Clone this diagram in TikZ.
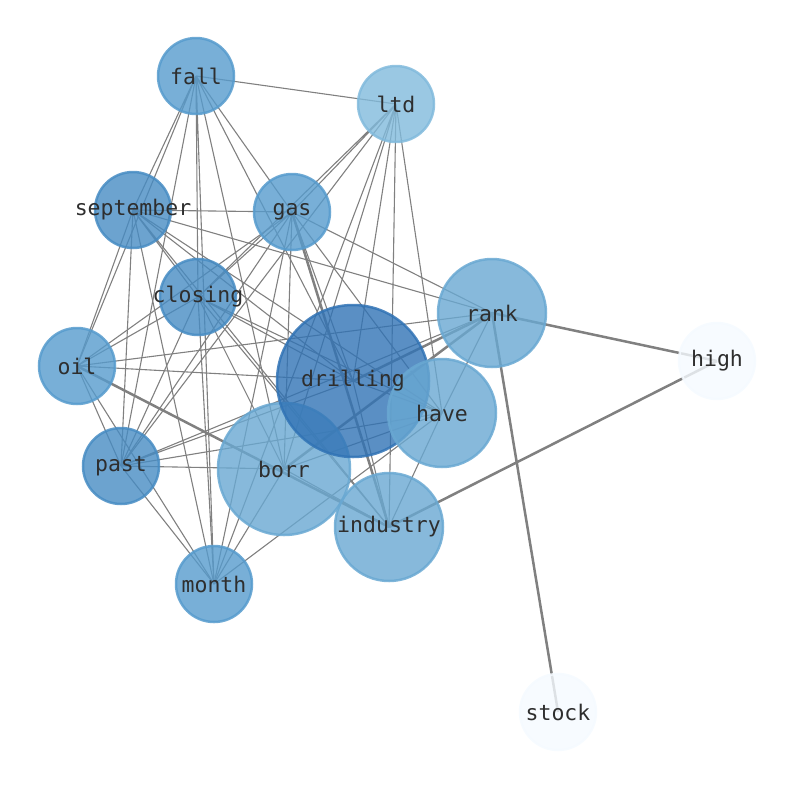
\documentclass[tikz,border=0pt]{standalone}
\usepackage{fontspec}
\setmonofont{DejaVu Sans Mono}
\usepackage{xcolor}
\usepackage{tikz}
\usetikzlibrary{backgrounds}
\definecolor{bluemid}{RGB}{86,155,205}
\definecolor{bluedeep}{RGB}{71,140,195}
\definecolor{bluepale}{RGB}{129,186,220}
\definecolor{bluesoft}{RGB}{105,168,210}
\definecolor{bluedark}{RGB}{49,115,181}
\definecolor{bluewhite}{RGB}{245,250,255}
\tikzstyle{tag} = [inner sep=0pt, text=black!82, font=\ttfamily\fontsize{21.5}{24}\selectfont, execute at begin node={\hbox to 0pt\bgroup\hss}, execute at end node={\hss\egroup}]
\tikzstyle{word} = [tag, circle, minimum size=76pt, line width=2.5pt, fill opacity=0.8, draw opacity=0.85, text opacity=1]
\tikzstyle{mid} = [fill=bluemid, draw=bluemid]
\tikzstyle{deep} = [fill=bluedeep, draw=bluedeep]
\tikzstyle{pale} = [fill=bluepale, draw=bluepale]
\tikzstyle{soft} = [fill=bluesoft, draw=bluesoft]
\tikzstyle{dark} = [fill=bluedark, draw=bluedark]
\tikzstyle{faint} = [fill=bluewhite, draw=bluewhite]
\tikzstyle{link} = [gray, line width=1.1pt]
\tikzstyle{heavy} = [gray, line width=2.5pt]

\begin{document}
\begin{tikzpicture}[x=1pt, y=-1pt]
    \useasboundingbox (0,0) rectangle (794,790);
    \node (fall)      [word, mid]  at (196,76)  {fall};
    \node (ltd)       [word, pale] at (396,104) {ltd};
    \node (september) [word, deep] at (133,210) {september};
    \node (gas)       [word, mid]  at (292,212) {gas};
    \node (closing)   [word, deep] at (198,297) {closing};
    \node (oil)       [word, mid]  at (77,366)  {oil};
    \node (past)      [word, deep] at (121,466) {past};
    \node (borr)      [word, soft, minimum size=132pt] at (284,469) {borr};
    \node (drilling)  [word, dark, minimum size=152pt] at (353,381) {};
    \node (rank)      [word, soft, minimum size=108pt] at (492,313) {rank};
    \node (have)      [word, soft, minimum size=108pt] at (442,413) {have};
    \node (industry)  [word, soft, minimum size=108pt] at (389,527) {industry};
    \node (month)     [word, mid]  at (214,584) {month};
    \node (high)      [word, faint] at (717,361) {high};
    \node (stock)     [word, faint] at (558,712) {stock};
    % label of the big node sits above the node drawn over it
    \node (drillingtag) [tag] at (drilling.center) {drilling};

    \begin{pgfonlayer}{background}
    \draw [link] (fall.center) -- (ltd.center) (fall.center) -- (september.center)
        (fall.center) -- (oil.center) (fall.center) -- (past.center)
        (fall.center) -- (closing.center) (fall.center) -- (month.center)
        (fall.center) -- (borr.center) (fall.center) -- (drilling.center)
        (fall.center) -- (gas.center);
    \draw [link] (ltd.center) -- (gas.center) (ltd.center) -- (closing.center)
        (ltd.center) -- (past.center) (ltd.center) -- (month.center)
        (ltd.center) -- (borr.center) (ltd.center) -- (drilling.center)
        (ltd.center) -- (have.center) (ltd.center) -- (industry.center);
    \draw [link] (september.center) -- (gas.center) (september.center) -- (oil.center)
        (september.center) -- (past.center) (september.center) -- (month.center)
        (september.center) -- (closing.center) (september.center) -- (rank.center)
        (september.center) -- (drilling.center) (september.center) -- (have.center)
        (september.center) -- (industry.center);
    \draw [link] (gas.center) -- (closing.center) (gas.center) -- (oil.center)
        (gas.center) -- (past.center) (gas.center) -- (month.center)
        (gas.center) -- (borr.center) (gas.center) -- (drilling.center)
        (gas.center) -- (have.center) (gas.center) -- (rank.center);
    \draw [heavy] (gas.center) -- (industry.center);
    \draw [link] (closing.center) -- (oil.center) (closing.center) -- (past.center)
        (closing.center) -- (month.center) (closing.center) -- (borr.center)
        (closing.center) -- (drilling.center) (closing.center) -- (have.center)
        (closing.center) -- (industry.center);
    \draw [link] (oil.center) -- (rank.center) (oil.center) -- (drilling.center)
        (oil.center) -- (past.center) (oil.center) -- (month.center);
    \draw [heavy] (oil.center) -- (industry.center);
    \draw [link] (past.center) -- (rank.center) (past.center) -- (have.center)
        (past.center) -- (borr.center) (past.center) -- (month.center)
        (past.center) -- (drilling.center);
    \draw [link] (month.center) -- (borr.center) (month.center) -- (have.center);
    \draw [link] (rank.center) -- (have.center) (have.center) -- (industry.center)
        (have.center) -- (borr.center) (have.center) -- (drilling.center)
        (borr.center) -- (industry.center) (industry.center) -- (drilling.center);
    \draw [heavy] (rank.center) -- (high.center) (rank.center) -- (stock.center)
        (rank.center) -- (drilling.center) (rank.center) -- (borr.center)
        (industry.center) -- (high.center);
    \end{pgfonlayer}
\end{tikzpicture}
\end{document}
